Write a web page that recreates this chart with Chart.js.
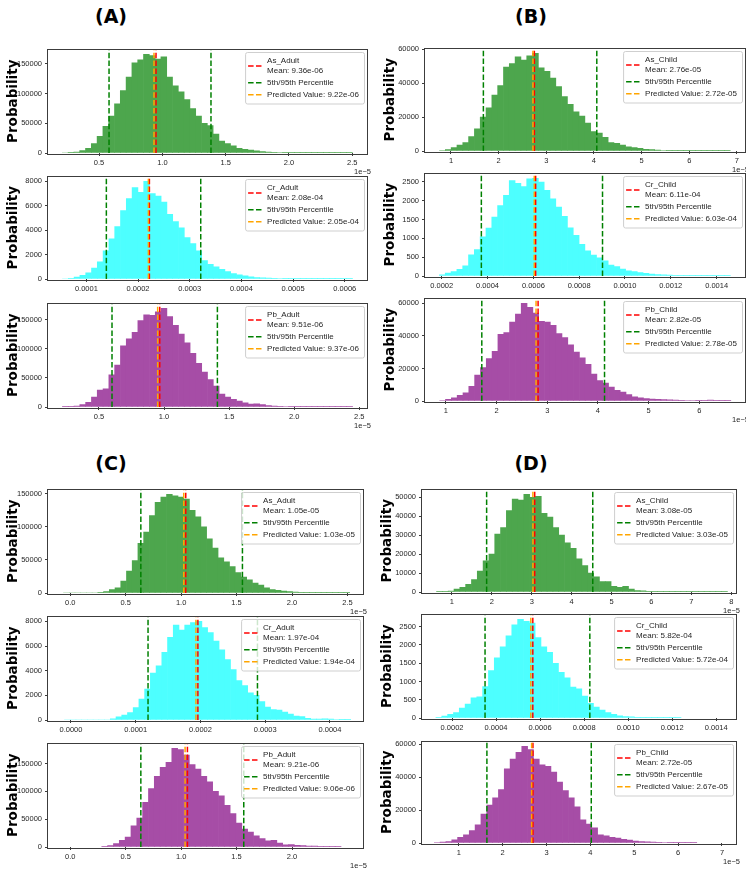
<!DOCTYPE html>
<html><head><meta charset="utf-8">
<script src="https://cdn.jsdelivr.net/npm/chart.js"></script>
<style>
html,body{margin:0;padding:0;background:#fff;width:746px;height:871px;overflow:hidden;position:relative;}
.ptitle{position:absolute;font:bold 19px 'DejaVu Sans',sans-serif;transform:translate(-50%,-50%);white-space:nowrap;color:#000;}
canvas{position:absolute;}
</style></head><body>
<div class="ptitle" style="left:111px;top:16px">(A)</div>
<div class="ptitle" style="left:531px;top:16px">(B)</div>
<div class="ptitle" style="left:111px;top:463px">(C)</div>
<div class="ptitle" style="left:531px;top:463px">(D)</div>
<script>
// ---------------- DATA ----------------
// counts per histogram bin; bins = [first bin edge, bin width]; xlim = axis range
// lines = [mean, 5th pct, 95th pct, predicted] x-positions as drawn; labels = legend texts
// xticks / yticks = tick values shown on the axes
// Panel A
const A_As_counts = [0,300,1500,4000,8000,16000,28000,45000,62000,83000,105000,128000,152000,157000,166000,164000,158000,162000,128000,113000,103000,90000,75000,62000,50000,46000,32000,20000,16000,12000,8000,6000,5000,3500,2500,1500,1000,800,500,400,300,200,150,100,80,60,40,30,20,10];
const A_As_bins = [0.21, 0.0458];
const A_As_xlim = [0.097, 2.616];
const A_As_lines = [0.950, 0.579, 1.384, 0.934];
const A_As_labels = ['As_Adult', 'Mean: 9.36e-06', 'Predicted Value: 9.22e-06'];
const A_As_xticks = [0.5, 1.0, 1.5, 2.0, 2.5];
const A_As_yticks = [0, 50000, 100000, 150000];

const A_Cr_counts = [0,60,150,300,500,900,1400,2300,3300,4300,5600,6600,7500,7100,8000,7000,6800,6300,5300,4700,4200,3400,2900,2300,1500,1200,1000,800,600,450,350,250,180,120,90,70,50,40,30,20,15,10,8,5,4,3,2,1,1,1];
const A_Cr_bins = [0.0000539, 0.00001122];
const A_Cr_xlim = [0.0000258, 0.000643];
const A_Cr_lines = [0.000222, 0.0001387, 0.0003213, 0.000220];
const A_Cr_labels = ['Cr_Adult', 'Mean: 2.08e-04', 'Predicted Value: 2.05e-04'];
const A_Cr_xticks = [0.0001, 0.0002, 0.0003, 0.0004, 0.0005, 0.0006];
const A_Cr_yticks = [0, 2000, 4000, 6000, 8000];

const A_Pb_counts = [500,300,1500,4000,8000,17000,29000,31000,55000,72000,105000,117000,128000,148000,158000,157000,163000,169000,155000,140000,125000,110000,92000,75000,60000,47000,36000,22000,17000,13000,10000,7000,5000,5500,4000,2500,1500,1000,800,600,500,300,200,100,80,50,30,20,10,10];
const A_Pb_bins = [0.219, 0.0446];
const A_Pb_xlim = [0.108, 2.56];
const A_Pb_lines = [0.967, 0.600, 1.410, 0.951];
const A_Pb_labels = ['Pb_Adult', 'Mean: 9.51e-06', 'Predicted Value: 9.37e-06'];
const A_Pb_xticks = [0.5, 1.0, 1.5, 2.0, 2.5];
const A_Pb_yticks = [0, 50000, 100000, 150000];

// Panel B
const B_As_counts = [300,800,2000,3500,5000,8500,13000,20000,25500,33000,38500,49500,51500,55500,53500,56000,57500,49000,47000,43000,38000,32000,27500,23000,20500,16500,11500,10500,8000,5000,4500,3500,2500,2000,1500,1000,800,500,300,200,150,100,80,60,40,30,20,10,5,5];
const B_As_bins = [0.76, 0.122];
const B_As_xlim = [0.455, 7.17];
const B_As_lines = [2.75, 1.68, 4.06, 2.72];
const B_As_labels = ['As_Child', 'Mean: 2.76e-05', 'Predicted Value: 2.72e-05'];
const B_As_xticks = [1, 2, 3, 4, 5, 6, 7];
const B_As_yticks = [0, 20000, 40000, 60000];

const B_Cr_counts = [30,80,120,180,270,560,700,1040,1270,1560,1870,2140,2530,2460,2370,2580,2590,2490,2270,2050,1830,1580,1280,1080,840,670,555,485,400,290,250,185,140,115,90,70,50,40,30,25,20,15,10,8,6,5,4,3,2,1];
const B_Cr_bins = [0.00019, 0.0000254];
const B_Cr_xlim = [0.000127, 0.001524];
const B_Cr_lines = [0.000610, 0.000373, 0.000902, 0.000604];
const B_Cr_labels = ['Cr_Child', 'Mean: 6.11e-04', 'Predicted Value: 6.03e-04'];
const B_Cr_xticks = [0.0002, 0.0004, 0.0006, 0.0008, 0.0010, 0.0012, 0.0014];
const B_Cr_yticks = [0, 500, 1000, 1500, 2000, 2500];

const B_Pb_counts = [300,1000,2000,3500,5000,9000,16000,20500,26000,30500,41000,42000,48500,53500,60000,57500,54000,49000,48500,46500,41500,39000,34500,30000,26500,22500,16500,12500,11000,8500,6500,5500,4000,2500,2000,1500,1200,1000,800,700,500,400,300,300,200,150,500,200,100,50];
const B_Pb_bins = [0.88, 0.1148];
const B_Pb_xlim = [0.59, 6.9];
const B_Pb_lines = [2.82, 1.71, 4.13, 2.78];
const B_Pb_labels = ['Pb_Child', 'Mean: 2.82e-05', 'Predicted Value: 2.78e-05'];
const B_Pb_xticks = [1, 2, 3, 4, 5, 6];
const B_Pb_yticks = [0, 20000, 40000, 60000];

// Panel C
const C_As_counts = [0,0,0,0,0,0,500,2000,5000,8000,18000,33000,49000,75000,92000,117000,137000,145000,149000,147000,145000,142000,125000,115000,100000,82000,68000,53000,47000,40000,31000,24000,20000,15000,12000,8000,5000,4000,3000,2000,1500,1000,500,300,200,100,50,30,20,10];
const C_As_bins = [-0.06, 0.0516];
const C_As_xlim = [-0.2, 2.64];
const C_As_lines = [1.042, 0.637, 1.553, 1.024];
const C_As_labels = ['As_Adult', 'Mean: 1.05e-05', 'Predicted Value: 1.03e-05'];
const C_As_xticks = [0.0, 0.5, 1.0, 1.5, 2.0, 2.5];
const C_As_yticks = [0, 50000, 100000, 150000];

const C_Cr_counts = [0,0,0,0,0,0,0,0,100,250,400,600,1000,1700,2500,3800,4400,5500,6700,7700,7300,7700,7900,8000,7500,7100,6400,5700,4900,4100,3200,2800,2200,2000,1500,1050,850,800,650,480,320,270,130,80,80,100,80,40,10,5];
const C_Cr_bins = [-0.00001, 0.00000884];
const C_Cr_xlim = [-0.0000355, 0.000451];
const C_Cr_lines = [0.000196, 0.000119, 0.000288, 0.000193];
const C_Cr_labels = ['Cr_Adult', 'Mean: 1.97e-04', 'Predicted Value: 1.94e-04'];
const C_Cr_xticks = [0.0000, 0.0001, 0.0002, 0.0003, 0.0004];
const C_Cr_yticks = [0, 2000, 4000, 6000, 8000];

const C_Pb_counts = [1000,2500,6000,12000,18000,38000,52000,80000,105000,127000,143000,152000,177000,175000,165000,148000,140000,127000,117000,100000,92000,75000,60000,43000,32000,27000,20000,15000,11000,12000,7000,4000,4500,3000,2500,1500,1500,800,300,100,50];
const C_Pb_bins = [0.285, 0.0526];
const C_Pb_xlim = [-0.2, 2.64];
const C_Pb_lines = [1.057, 0.637, 1.565, 1.036];
const C_Pb_labels = ['Pb_Adult', 'Mean: 9.21e-06', 'Predicted Value: 9.06e-06'];
const C_Pb_xticks = [0.0, 0.5, 1.0, 1.5, 2.0];
const C_Pb_yticks = [0, 50000, 100000, 150000];

// Panel D
const D_As_counts = [50,200,500,1500,2500,4000,6500,11000,16500,20000,30500,34000,43000,49000,48500,51500,50000,50500,41500,39500,34000,30000,26000,23000,17500,14000,10000,8000,5500,5500,3000,2500,3000,1500,800,600,400,300,200,150,100,80,60,50,40,30,20,10,10,5];
const D_As_bins = [0.615, 0.1458];
const D_As_xlim = [0.25, 8.12];
const D_As_lines = [3.075, 1.87, 4.53, 3.03];
const D_As_labels = ['As_Child', 'Mean: 3.08e-05', 'Predicted Value: 3.03e-05'];
const D_As_xticks = [1, 2, 3, 4, 5, 6, 7, 8];
const D_As_yticks = [0, 10000, 20000, 30000, 40000, 50000];

const D_Cr_counts = [20,50,100,150,270,380,550,580,860,1300,1650,1950,2250,2550,2700,2650,2600,2200,1950,1800,1500,1250,1100,850,800,600,400,300,220,150,100,60,40,30,20,15,10,8,5,3,2,1];
const D_Cr_bins = [0.000127, 0.0000265];
const D_Cr_xlim = [0.0000636, 0.00149];
const D_Cr_lines = [0.000567, 0.000350, 0.000826, 0.000558];
const D_Cr_labels = ['Cr_Child', 'Mean: 5.82e-04', 'Predicted Value: 5.72e-04'];
const D_Cr_xticks = [0.0002, 0.0004, 0.0006, 0.0008, 0.0010, 0.0012, 0.0014];
const D_Cr_yticks = [0, 500, 1000, 1500, 2000, 2500];

const D_Pb_counts = [300,500,800,2000,3500,5000,7500,11000,17500,23000,27500,32500,45000,51000,55000,58700,56800,51000,47500,46500,43000,37000,31800,27500,22000,14000,11500,9200,5000,4300,3500,3000,2300,1800,1200,900,700,500,400,300,250,200,150,100,50];
const D_Pb_bins = [0.44, 0.133];
const D_Pb_xlim = [0.16, 7.32];
const D_Pb_lines = [2.69, 1.64, 4.02, 2.66];
const D_Pb_labels = ['Pb_Child', 'Mean: 2.72e-05', 'Predicted Value: 2.67e-05'];
const D_Pb_xticks = [1, 2, 3, 4, 5, 6, 7];
const D_Pb_yticks = [0, 20000, 40000, 60000];

// ---------------- STYLE / LAYOUT ----------------
const GREEN = 'rgb(77,166,77)', CYAN = 'rgb(77,255,255)', PURPLE = 'rgb(166,77,166)';
const OFF = '1e\u22125';
const SPECS = [
  {box:[48,48,319,105],  c:A_As_counts, b:A_As_bins, xl:A_As_xlim, ln:A_As_lines, lb:A_As_labels, xt:A_As_xticks, yt:A_As_yticks, col:GREEN,  dec:1, off:OFF},
  {box:[48,175,319,104], c:A_Cr_counts, b:A_Cr_bins, xl:A_Cr_xlim, ln:A_Cr_lines, lb:A_Cr_labels, xt:A_Cr_xticks, yt:A_Cr_yticks, col:CYAN,   dec:4, off:''},
  {box:[48,302,319,105], c:A_Pb_counts, b:A_Pb_bins, xl:A_Pb_xlim, ln:A_Pb_lines, lb:A_Pb_labels, xt:A_Pb_xticks, yt:A_Pb_yticks, col:PURPLE, dec:1, off:OFF},
  {box:[425,47,320,104], c:B_As_counts, b:B_As_bins, xl:B_As_xlim, ln:B_As_lines, lb:B_As_labels, xt:B_As_xticks, yt:B_As_yticks, col:GREEN,  dec:0, off:OFF},
  {box:[425,172,320,104],c:B_Cr_counts, b:B_Cr_bins, xl:B_Cr_xlim, ln:B_Cr_lines, lb:B_Cr_labels, xt:B_Cr_xticks, yt:B_Cr_yticks, col:CYAN,   dec:4, off:''},
  {box:[425,297,320,104],c:B_Pb_counts, b:B_Pb_bins, xl:B_Pb_xlim, ln:B_Pb_lines, lb:B_Pb_labels, xt:B_Pb_xticks, yt:B_Pb_yticks, col:PURPLE, dec:0, off:OFF},
  {box:[48,488,315,105], c:C_As_counts, b:C_As_bins, xl:C_As_xlim, ln:C_As_lines, lb:C_As_labels, xt:C_As_xticks, yt:C_As_yticks, col:GREEN,  dec:1, off:OFF},
  {box:[48,615,315,105], c:C_Cr_counts, b:C_Cr_bins, xl:C_Cr_xlim, ln:C_Cr_lines, lb:C_Cr_labels, xt:C_Cr_xticks, yt:C_Cr_yticks, col:CYAN,   dec:4, off:''},
  {box:[48,742,315,105], c:C_Pb_counts, b:C_Pb_bins, xl:C_Pb_xlim, ln:C_Pb_lines, lb:C_Pb_labels, xt:C_Pb_xticks, yt:C_Pb_yticks, col:PURPLE, dec:1, off:OFF},
  {box:[422,488,314,104],c:D_As_counts, b:D_As_bins, xl:D_As_xlim, ln:D_As_lines, lb:D_As_labels, xt:D_As_xticks, yt:D_As_yticks, col:GREEN,  dec:0, off:OFF},
  {box:[422,613,314,105],c:D_Cr_counts, b:D_Cr_bins, xl:D_Cr_xlim, ln:D_Cr_lines, lb:D_Cr_labels, xt:D_Cr_xticks, yt:D_Cr_yticks, col:CYAN,   dec:4, off:''},
  {box:[422,740,314,103],c:D_Pb_counts, b:D_Pb_bins, xl:D_Pb_xlim, ln:D_Pb_lines, lb:D_Pb_labels, xt:D_Pb_xticks, yt:D_Pb_yticks, col:PURPLE, dec:0, off:OFF}
];

const TICK_FAMILY = "'Liberation Sans Narrow','Liberation Sans',Arial,sans-serif";
const TICK_FONT = {family: TICK_FAMILY, size: 7.5};
const TEXT_COL = '#262626';
const DASH = [5.5, 2.4];

Chart.register({
  id: 'axesBg',
  beforeDraw(chart) {
    const {ctx, chartArea: a} = chart;
    ctx.save(); ctx.fillStyle = '#fff';
    ctx.fillRect(a.left, a.top, a.right - a.left, a.bottom - a.top);
    ctx.restore();
  },
  afterDatasetsDraw(chart) {
    const {ctx, chartArea: a} = chart;
    ctx.save(); ctx.strokeStyle = '#3c3c3c'; ctx.lineWidth = 1;
    ctx.strokeRect(Math.round(a.left) - 0.5, Math.round(a.top) - 0.5, Math.round(a.right - a.left) + 1, Math.round(a.bottom - a.top) + 1);
    ctx.restore();
  }
});

Chart.register({
  id: 'mplLegend',
  afterDraw(chart) {
    const {ctx, chartArea: a} = chart;
    const ds = chart.data.datasets.filter(d => d.type === 'line');
    const entries = ds.map(d => ({color: d.borderColor, lines: d.label.split('\n')}));
    ctx.save();
    ctx.font = "8px 'Liberation Sans',Arial,sans-serif";
    let tw = 0;
    entries.forEach(e => e.lines.forEach(t => { tw = Math.max(tw, ctx.measureText(t).width); }));
    const lineH = 9.5, gap = 2.5, padT = 4.5, padB = 4;
    let h = padT + padB;
    entries.forEach((e, i) => { h += e.lines.length * lineH + (i ? gap : 0); });
    const w = 22 + tw + 5;
    const x0 = a.right - 3 - w, y0 = a.top + 2.5;
    ctx.beginPath();
    if (ctx.roundRect) ctx.roundRect(x0 + 0.5, y0 + 0.5, w, h, 2); else ctx.rect(x0 + 0.5, y0 + 0.5, w, h);
    ctx.fillStyle = 'rgba(255,255,255,0.8)'; ctx.fill();
    ctx.strokeStyle = '#cfcfcf'; ctx.lineWidth = 1; ctx.stroke();
    let y = y0 + padT;
    entries.forEach((e, i) => {
      if (i) y += gap;
      const hh = e.lines.length * lineH;
      const cy = y + hh / 2;
      ctx.strokeStyle = e.color; ctx.lineWidth = 1.5; ctx.setLineDash(DASH);
      ctx.beginPath(); ctx.moveTo(x0 + 3, cy); ctx.lineTo(x0 + 17, cy); ctx.stroke();
      ctx.setLineDash([]);
      ctx.fillStyle = TEXT_COL; ctx.textBaseline = 'middle'; ctx.textAlign = 'left';
      e.lines.forEach((t, k) => ctx.fillText(t, x0 + 22, y + lineH * (k + 0.5)));
      y += hh;
    });
    ctx.restore();
  }
});

Chart.register({
  id: 'offsetText',
  afterDraw(chart, args, opts) {
    if (!opts || !opts.text) return;
    const {ctx, chartArea: a} = chart;
    ctx.save();
    ctx.font = "7.5px " + TICK_FAMILY;
    ctx.fillStyle = TEXT_COL; ctx.textAlign = 'right'; ctx.textBaseline = 'middle';
    ctx.fillText(opts.text, a.right + 4, a.bottom + 19);
    ctx.restore();
  }
});

function build(s) {
  const [l, t, w, h] = s.box;
  const PADL = 48, PADT = 6, PADR = 10, XH = 16, PADB = 14;
  const cv = document.createElement('canvas');
  cv.width = PADL + w + PADR; cv.height = PADT + h + XH + PADB;
  cv.style.left = (l - PADL) + 'px'; cv.style.top = (t - PADT) + 'px';
  document.body.appendChild(cv);
  const [start, width] = s.b;
  const bars = s.c.map((v, i) => ({x: start + (i + 0.5) * width, y: v}));
  const ymax = Math.max(...s.c) * 1.05;
  const [mean, p5, p95, pred] = s.ln;
  const vline = v => [{x: v, y: 0}, {x: v, y: ymax}];
  const lineStyle = {type: 'line', borderWidth: 1.5, borderDash: DASH, pointRadius: 0, fill: false, tension: 0};
  const gridCfg = {display: true, drawOnChartArea: false, drawTicks: true, tickLength: 3, tickColor: '#3c3c3c', offset: false};
  new Chart(cv, {
    type: 'bar',
    data: {datasets: [
      Object.assign({label: s.lb[0] + '\n' + s.lb[1], data: vline(mean), borderColor: '#ff0000', order: 2}, lineStyle),
      Object.assign({label: '5th/95th Percentile', data: [...vline(p5), {x: p5, y: null}, ...vline(p95)], borderColor: '#008000', order: 1}, lineStyle),
      Object.assign({label: s.lb[2], data: vline(pred), borderColor: '#ffa500', order: 0}, lineStyle),
      {type: 'bar', label: 'hist', data: bars, backgroundColor: s.col, borderWidth: 0, barPercentage: 1, categoryPercentage: 1, order: 10}
    ]},
    options: {
      responsive: false, animation: false, events: [],
      layout: {padding: {left: 0, top: PADT, right: PADR, bottom: PADB}, autoPadding: false},
      plugins: {legend: {display: false}, tooltip: {enabled: false}, offsetText: {text: s.off}},
      scales: {
        x: {type: 'linear', min: s.xl[0], max: s.xl[1], offset: false, grid: gridCfg, border: {display: false},
            ticks: {autoSkip: false, maxRotation: 0, minRotation: 0, padding: 2,
                    color: TEXT_COL, font: TICK_FONT, callback: v => Number(v).toFixed(s.dec)},
            afterBuildTicks(sc) { sc.ticks = s.xt.map(v => ({value: v})); },
            afterFit(sc) { sc.height = XH; }},
        y: {type: 'linear', min: 0, max: ymax, grid: gridCfg, border: {display: false},
            ticks: {autoSkip: false, padding: 3, color: TEXT_COL, font: TICK_FONT,
                    callback: v => String(Math.round(v))},
            afterBuildTicks(sc) { sc.ticks = s.yt.map(v => ({value: v})); },
            title: {display: true, text: 'Probability', color: '#000',
                    font: {family: "'DejaVu Sans',sans-serif", size: 13.5, weight: 'bold'}, padding: {top: 5, bottom: 0}},
            afterFit(sc) { sc.width = PADL; }}
      }
    }
  });
}
SPECS.forEach(build);
</script>
</body></html>
